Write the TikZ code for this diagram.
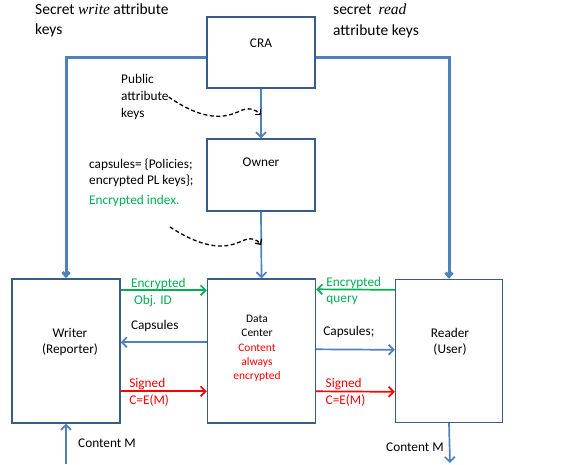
\documentclass[tikz,border=0pt]{standalone}
\usepackage{fontspec}
\setmainfont{Carlito}
\newfontfamily\timesfont{Liberation Serif}
\usetikzlibrary{arrows.meta}

\definecolor{boxblue}{RGB}{56,93,138}
\definecolor{lineblue}{RGB}{79,129,189}
\definecolor{encgreen}{RGB}{0,176,80}
\definecolor{sigred}{RGB}{255,0,0}

\tikzset{
    party/.style={draw=boxblue, line width=1.4pt, minimum width=108pt, inner sep=0pt},
    flow/.style={draw=lineblue, line width=1.7pt, -{Straight Barb[length=5pt, width=10pt]}},
    keyline/.style={draw=lineblue, line width=3pt, -{Straight Barb[length=4pt, width=7pt]}},
    hint/.style={black, line width=1.3pt, dash pattern=on 4pt off 2.5pt, -{Straight Barb[length=4pt, width=8pt]}},
    every node/.style={inner sep=0pt, font=\fontsize{13.3}{16.5}\selectfont}
}

\begin{document}
\begin{tikzpicture}[x=1pt, y=-1pt]
        \useasboundingbox (0, 0) rectangle (570, 464);

        \node[party, minimum height=71pt] (cra) at (261, 52.5) {};
        \node (cratext) at (261, 43) {CRA};

        \node[party, minimum height=72pt] (owner) at (261, 175) {};
        \node (ownertext) at (261, 162) {Owner};

        \node[party, minimum height=144pt] (writer) at (66, 351) {};
        \node[align=center] (writertext) at (70, 342) {Writer\\(Reporter)};

        \node[party, minimum height=144pt] (dc) at (261.5, 351) {};
        \node[align=center, font=\fontsize{11.5}{14.3}\selectfont] (dctext) at (257, 348.5) {Data\\Center\\\textcolor{sigred}{Content}\\\textcolor{sigred}{always}\\\textcolor{sigred}{encrypted}};

        \node[party, minimum height=143pt, minimum width=107pt] (reader) at (449, 351) {};
        \node[align=center] (readertext) at (450, 342) {Reader\\(User)};

        \node[anchor=west, align=left, font=\fontsize{15.5}{20.5}\selectfont] (writekeys) at (35, 20.5) {Secret {\timesfont\itshape write} attribute\\keys};
        \node[anchor=west, align=left, font=\fontsize{15.5}{20.5}\selectfont] (readkeys) at (333, 21) {secret \ {\timesfont\itshape read}\\attribute keys};

        \node[anchor=west, align=left, font=\fontsize{13.3}{17}\selectfont] (pubkeys) at (121, 97) {Public\\attribute\\keys};
        \node[anchor=west, align=left] (capsules) at (89, 173) {capsules= \{Policies;\\encrypted PL keys\};};
        \node[anchor=west, encgreen] (encindex) at (89, 201) {Encrypted index.};

        \draw[keyline] ([yshift=-4.5pt]cra.west) -| (writer.north);
        \draw[keyline] ([yshift=-4.5pt]cra.east) -| (reader.north);
        \draw[flow] (cra.south) -- (owner.north);
        \draw[flow] (owner.south) -- (dc.north);

        \coordinate (pubtip) at (261, 115);
        \coordinate (idxstart) at (170, 227);
        \coordinate (idxtip) at (261, 245);
        \draw[hint] (pubkeys.east) .. controls (205, 122) and (225, 118) .. (240, 111) .. controls (248, 107) and (255, 109) .. (pubtip);
        \draw[hint] (idxstart) .. controls (207, 251) and (227, 248) .. (242, 241) .. controls (250, 237) and (257, 239) .. (idxtip);

        \draw[flow, draw=encgreen] ([yshift=-12pt]writer.north east) -- ([yshift=-12pt]dc.north west)
            node[pos=0.11, anchor=west, align=left, encgreen, yshift=-2pt] (objid) {Encrypted\\\ Obj. ID};
        \draw[flow] ([yshift=-64pt]dc.north west) -- ([yshift=-64pt]writer.north east)
            node[pos=0.89, anchor=west, yshift=16pt] (wcaps) {Capsules};
        \draw[flow, draw=sigred] ([yshift=-113pt]writer.north east) -- ([yshift=-113pt]dc.north west)
            node[pos=0.09, anchor=west, align=left, sigred, yshift=-1pt] (wsigned) {Signed\\C=E(M)};

        \draw[flow, draw=encgreen] ([yshift=-11pt]reader.north west) -- ([yshift=-11pt]dc.north east)
            node[pos=0.88, anchor=west, align=left, encgreen, yshift=-1.5pt] (query) {Encrypted\\query};
        \draw[flow] ([yshift=-71pt]dc.north east) -- ([yshift=-71pt]reader.north west)
            node[pos=0.08, anchor=west, yshift=17pt] (rcaps) {Capsules;};
        \draw[flow, draw=sigred] ([yshift=-113pt]dc.north east) -- ([yshift=-113pt]reader.north west)
            node[pos=0.11, anchor=west, align=left, sigred, yshift=-1pt] (rsigned) {Signed\\C=E(M)};

        \coordinate (contentin) at (66, 464);
        \coordinate (contentout) at (450, 463);
        \draw[flow] (contentin) -- (writer.south);
        \draw[flow] (reader.south) -- (contentout);
        \node[anchor=west] (min) at (78, 443) {Content M};
        \node[anchor=west] (mout) at (386, 447) {Content M};
    \end{tikzpicture}
\end{document}
